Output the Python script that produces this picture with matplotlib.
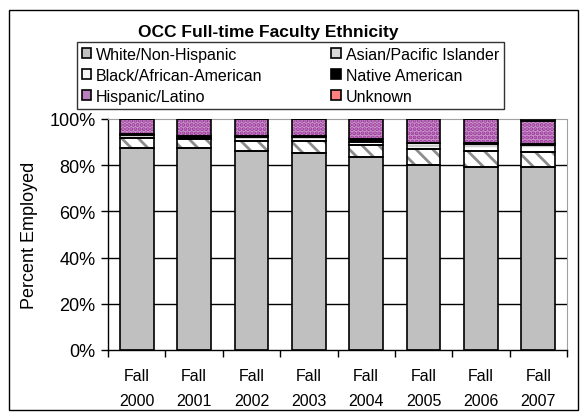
import numpy as np
import matplotlib
matplotlib.use("Agg")
import matplotlib.pyplot as plt
from matplotlib.patches import Patch, Rectangle

plt.rcParams['font.family'] = ['Liberation Sans', 'DejaVu Sans']
plt.rcParams['hatch.linewidth'] = 2.0

years = ["Fall\n2000", "Fall\n2001", "Fall\n2002", "Fall\n2003",
         "Fall\n2004", "Fall\n2005", "Fall\n2006", "Fall\n2007"]

# percentages (bottom to top)
white = [87.3, 87.3, 86.0, 85.2, 83.4, 80.1, 79.1, 79.2]
asian = [4.3, 4.0, 4.4, 5.2, 5.3, 6.9, 7.2, 6.6]
black = [1.5, 0.4, 1.8, 1.9, 1.5, 2.4, 3.0, 3.0]
native = [0.3, 1.0, 0.4, 0.3, 1.0, 0.2, 0.3, 0.3]
hispanic = [6.6, 7.3, 7.4, 7.4, 8.6, 10.4, 10.4, 9.9]
unknown = [0.0, 0.0, 0.0, 0.0, 0.2, 0.0, 0.0, 1.0]

# name, values, fill, hatch, hatch colour, legend fill
series = [
    ("White/Non-Hispanic", white, "#c0c0c0", None, "#c0c0c0", "#c0c0c0"),
    ("Asian/Pacific Islander", asian, "white", "\\\\", "#8c8c8c", "#d8d8d8"),
    ("Black/African-American", black, "white", "--", "#d0d0d0", "#f4f4f4"),
    ("Native American", native, "black", None, "black", "black"),
    ("Hispanic/Latino", hispanic, "#cc99cc", "....", "#993399", "#b880bc"),
    ("Unknown", unknown, "#ff8080", None, "#ff8080", "#ff8080"),
]

fig = plt.figure(figsize=(5.84, 4.14), dpi=100)
ax = fig.add_axes([108 / 584, 1 - 351 / 414, (567 - 108) / 584, (351 - 120) / 414])

x = np.arange(len(years))
width = 0.59
bottom = np.zeros(len(years))
handles = []
for name, vals, fc, hatch, hc, lc in series:
    vals = np.array(vals)
    ax.bar(x, vals, width, bottom=bottom, color=fc, hatch=hatch,
           edgecolor=hc, linewidth=0, zorder=2)
    ax.bar(x, vals, width, bottom=bottom, fill=False,
           edgecolor="black", linewidth=1.2, zorder=3)
    bottom += vals
    handles.append(Patch(facecolor=lc, edgecolor="black", linewidth=1.2))

ax.set_xlim(-0.5, len(years) - 0.5)
ax.set_ylim(0, 100)
ax.set_yticks([0, 20, 40, 60, 80, 100])
ax.set_yticklabels(["0%", "20%", "40%", "60%", "80%", "100%"], fontsize=13)
ax.set_ylabel("Percent Employed", fontsize=13, labelpad=8)
for y in [20, 40, 60, 80]:
    ax.axhline(y, color="black", linewidth=1, zorder=1)

ax.set_xticks(x)
ax.set_xticklabels(years, fontsize=11.5, linespacing=1.85)
ax.tick_params(axis="x", length=0, pad=13)
ax.set_xticks(np.arange(-0.5, len(years)), minor=True)
ax.tick_params(axis="x", which="minor", length=5, width=1, direction="out")
ax.tick_params(axis="y", length=5, width=1, direction="out", pad=4)

ax.spines["left"].set_linewidth(1)
ax.spines["bottom"].set_linewidth(1)
ax.spines["top"].set_color("#a0a0a0")
ax.spines["right"].set_color("#a0a0a0")

fig.text(268 / 584, 1 - 32 / 414, "OCC Full-time Faculty Ethnicity",
         fontsize=12.5, fontweight="bold", ha="center", va="center")

# legend fills column by column, so reorder to read row by row
order = [0, 2, 4, 1, 3, 5]
leg = fig.legend([handles[i] for i in order], [series[i][0] for i in order],
                 ncol=2, loc="upper left", bbox_to_anchor=(77 / 584, 1 - 43 / 414),
                 fontsize=11.5, frameon=True, fancybox=False, edgecolor="black",
                 handlelength=0.6, handleheight=0.6, handletextpad=0.3,
                 columnspacing=4.3, labelspacing=0.38, borderpad=0.3,
                 borderaxespad=0)
leg.get_frame().set_linewidth(1)

fig.patches.append(Rectangle((9 / 584, 3 / 414), 569 / 584, 400 / 414,
                             transform=fig.transFigure, fill=False,
                             edgecolor="black", linewidth=1))

fig.savefig("out.png", dpi=100)
